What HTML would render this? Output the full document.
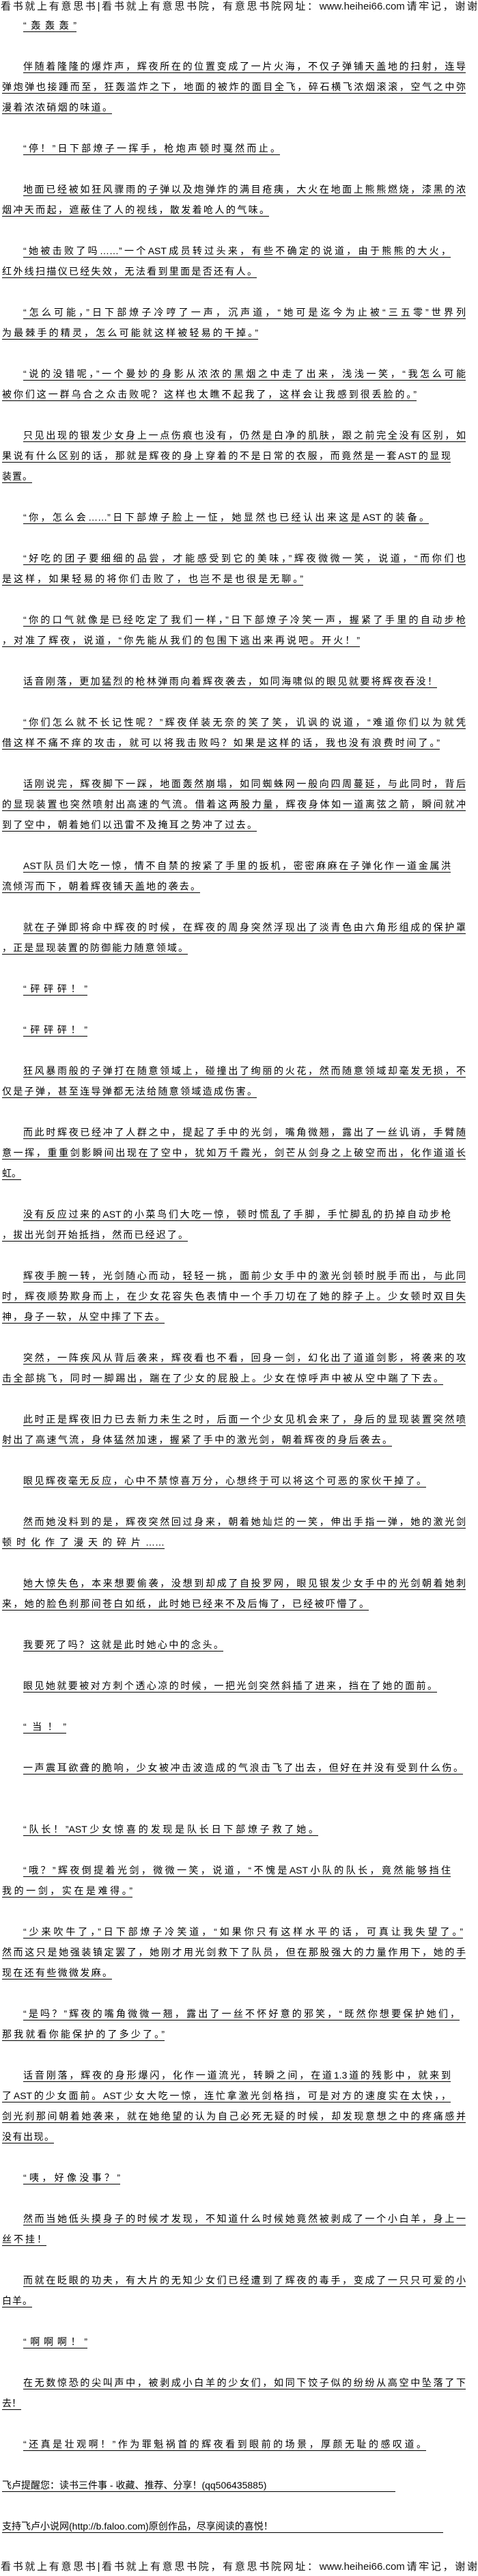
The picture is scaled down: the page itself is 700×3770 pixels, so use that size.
<!DOCTYPE html>
<html><head><meta charset="utf-8">
<style>
html,body{margin:0;padding:0;background:#fff;}
body{width:700px;height:3770px;position:relative;overflow:hidden;font-family:"Liberation Sans","Noto Sans CJK SC",sans-serif;color:#000;}
.l{position:absolute;height:17px;line-height:17px;font-size:14px;border-bottom:1px solid #000;text-align:justify;text-align-last:justify;white-space:nowrap;}
.n{text-align-last:left;}
.h{position:absolute;left:1px;width:698px;font-size:15px;line-height:20px;white-space:nowrap;color:#111;text-align:justify;text-align-last:justify;}
</style></head><body>
<div class="h" style="top:0px">看书就上有意思书|看书就上有意思书院，有意思书院网址：www.heihei66.com请牢记，谢谢</div>

<div class="l" style="top:29px;left:34px;width:78px">“轰轰轰”</div>
<div class="l" style="top:89px;left:34px;width:648px">伴随着隆隆的爆炸声，辉夜所在的位置变成了一片火海，不仅子弹铺天盖地的扫射，连导</div>
<div class="l" style="top:119px;left:3px;width:679px">弹炮弹也接踵而至，狂轰滥炸之下，地面的被炸的面目全飞，碎石横飞浓烟滚滚，空气之中弥</div>
<div class="l" style="top:149px;left:3px;width:161px">漫着浓浓硝烟的味道。</div>
<div class="l" style="top:209px;left:34px;width:376px">“停！”日下部燎子一挥手，枪炮声顿时戛然而止。</div>
<div class="l" style="top:269px;left:34px;width:648px">地面已经被如狂风骤雨的子弹以及炮弹炸的满目疮痍，大火在地面上熊熊燃烧，漆黑的浓</div>
<div class="l" style="top:299px;left:3px;width:391px">烟冲天而起，遮蔽住了人的视线，散发着呛人的气味。</div>
<div class="l" style="top:359px;left:34px;width:626px">“她被击败了吗……”一个AST成员转过头来，有些不确定的说道，由于熊熊的大火，</div>
<div class="l" style="top:389px;left:3px;width:373px">红外线扫描仪已经失效，无法看到里面是否还有人。</div>
<div class="l" style="top:449px;left:34px;width:648px">“怎么可能，”日下部燎子冷哼了一声，沉声道，“她可是迄今为止被“三五零”世界列</div>
<div class="l" style="top:479px;left:3px;width:375px">为最棘手的精灵，怎么可能就这样被轻易的干掉。”</div>
<div class="l" style="top:539px;left:34px;width:648px">“说的没错呢，”一个曼妙的身影从浓浓的黑烟之中走了出来，浅浅一笑，“我怎么可能</div>
<div class="l" style="top:569px;left:3px;width:607px">被你们这一群乌合之众击败呢？这样也太瞧不起我了，这样会让我感到很丢脸的。”</div>
<div class="l" style="top:629px;left:34px;width:648px">只见出现的银发少女身上一点伤痕也没有，仍然是白净的肌肤，跟之前完全没有区别，如</div>
<div class="l" style="top:659px;left:3px;width:657px">果说有什么区别的话，那就是辉夜的身上穿着的不是日常的衣服，而竟然是一套AST的显现</div>
<div class="l" style="top:689px;left:3px;width:44px">装置。</div>
<div class="l" style="top:749px;left:34px;width:594px">“你，怎么会……”日下部燎子脸上一怔，她显然也已经认出来这是AST的装备。</div>
<div class="l" style="top:809px;left:34px;width:648px">“好吃的团子要细细的品尝，才能感受到它的美味，”辉夜微微一笑，说道，“而你们也</div>
<div class="l" style="top:839px;left:3px;width:441px">是这样，如果轻易的将你们击败了，也岂不是也很是无聊。”</div>
<div class="l" style="top:899px;left:34px;width:648px">“你的口气就像是已经吃定了我们一样，”日下部燎子冷笑一声，握紧了手里的自动步枪</div>
<div class="l" style="top:929px;left:3px;width:524px">，对准了辉夜，说道，“你先能从我们的包围下逃出来再说吧。开火！”</div>
<div class="l" style="top:989px;left:34px;width:606px">话音刚落，更加猛烈的枪林弹雨向着辉夜袭去，如同海啸似的眼见就要将辉夜吞没！</div>
<div class="l" style="top:1049px;left:34px;width:648px">“你们怎么就不长记性呢？”辉夜佯装无奈的笑了笑，讥讽的说道，“难道你们以为就凭</div>
<div class="l" style="top:1079px;left:3px;width:641px">借这样不痛不痒的攻击，就可以将我击败吗？如果是这样的话，我也没有浪费时间了。”</div>
<div class="l" style="top:1139px;left:34px;width:648px">话刚说完，辉夜脚下一踩，地面轰然崩塌，如同蜘蛛网一般向四周蔓延，与此同时，背后</div>
<div class="l" style="top:1169px;left:3px;width:679px">的显现装置也突然喷射出高速的气流。借着这两股力量，辉夜身体如一道离弦之箭，瞬间就冲</div>
<div class="l" style="top:1199px;left:3px;width:373px">到了空中，朝着她们以迅雷不及掩耳之势冲了过去。</div>
<div class="l" style="top:1259px;left:34px;width:626px">AST队员们大吃一惊，情不自禁的按紧了手里的扳机，密密麻麻在子弹化作一道金属洪</div>
<div class="l" style="top:1289px;left:3px;width:290px">流倾泻而下，朝着辉夜铺天盖地的袭去。</div>
<div class="l" style="top:1349px;left:34px;width:648px">就在子弹即将命中辉夜的时候，在辉夜的周身突然浮现出了淡青色由六角形组成的保护罩</div>
<div class="l" style="top:1379px;left:3px;width:272px">，正是显现装置的防御能力随意领域。</div>
<div class="l" style="top:1439px;left:34px;width:94px">“砰砰砰！”</div>
<div class="l" style="top:1499px;left:34px;width:94px">“砰砰砰！”</div>
<div class="l" style="top:1559px;left:34px;width:648px">狂风暴雨般的子弹打在随意领域上，碰撞出了绚丽的火花，然而随意领域却毫发无损，不</div>
<div class="l" style="top:1589px;left:3px;width:373px">仅是子弹，甚至连导弹都无法给随意领域造成伤害。</div>
<div class="l" style="top:1649px;left:34px;width:648px">而此时辉夜已经冲了人群之中，提起了手中的光剑，嘴角微翘，露出了一丝讥诮，手臂随</div>
<div class="l" style="top:1679px;left:3px;width:679px">意一挥，重重剑影瞬间出现在了空中，犹如万千霞光，剑芒从剑身之上破空而出，化作道道长</div>
<div class="l" style="top:1709px;left:3px;width:28px">虹。</div>
<div class="l" style="top:1769px;left:34px;width:626px">没有反应过来的AST的小菜鸟们大吃一惊，顿时慌乱了手脚，手忙脚乱的扔掉自动步枪</div>
<div class="l" style="top:1799px;left:3px;width:272px">，拔出光剑开始抵挡，然而已经迟了。</div>
<div class="l" style="top:1859px;left:34px;width:648px">辉夜手腕一转，光剑随心而动，轻轻一挑，面前少女手中的激光剑顿时脱手而出，与此同</div>
<div class="l" style="top:1889px;left:3px;width:679px">时，辉夜顺势欺身而上，在少女花容失色表情中一个手刀切在了她的脖子上。少女顿时双目失</div>
<div class="l" style="top:1919px;left:3px;width:238px">神，身子一软，从空中摔了下去。</div>
<div class="l" style="top:1979px;left:34px;width:648px">突然，一阵疾风从背后袭来，辉夜看也不看，回身一剑，幻化出了道道剑影，将袭来的攻</div>
<div class="l" style="top:2009px;left:3px;width:646px">击全部挑飞，同时一脚踢出，踹在了少女的屁股上。少女在惊呼声中被从空中踹了下去。</div>
<div class="l" style="top:2069px;left:34px;width:648px">此时正是辉夜旧力已去新力未生之时，后面一个少女见机会来了，身后的显现装置突然喷</div>
<div class="l" style="top:2099px;left:3px;width:571px">射出了高速气流，身体猛然加速，握紧了手中的激光剑，朝着辉夜的身后袭去。</div>
<div class="l" style="top:2159px;left:34px;width:590px">眼见辉夜毫无反应，心中不禁惊喜万分，心想终于可以将这个可恶的家伙干掉了。</div>
<div class="l" style="top:2219px;left:34px;width:648px">然而她没料到的是，辉夜突然回过身来，朝着她灿烂的一笑，伸出手指一弹，她的激光剑</div>
<div class="l" style="top:2249px;left:3px;width:238px">顿时化作了漫天的碎片……</div>
<div class="l" style="top:2309px;left:34px;width:648px">她大惊失色，本来想要偷袭，没想到却成了自投罗网，眼见银发少女手中的光剑朝着她刺</div>
<div class="l" style="top:2339px;left:3px;width:537px">来，她的脸色刹那间苍白如纸，此时她已经来不及后悔了，已经被吓懵了。</div>
<div class="l" style="top:2399px;left:34px;width:293px">我要死了吗？这就是此时她心中的念头。</div>
<div class="l" style="top:2459px;left:34px;width:606px">眼见她就要被对方刺个透心凉的时候，一把光剑突然斜插了进来，挡在了她的面前。</div>
<div class="l" style="top:2519px;left:34px;width:63px">“当！”</div>
<div class="l" style="top:2579px;left:34px;width:644px">一声震耳欲聋的脆响，少女被冲击波造成的气浪击飞了出去，但好在并没有受到什么伤。</div>
<div class="l" style="top:2669px;left:34px;width:432px">“队长！”AST少女惊喜的发现是队长日下部燎子救了她。</div>
<div class="l" style="top:2729px;left:34px;width:626px">“哦？”辉夜倒提着光剑，微微一笑，说道，“不愧是AST小队的队长，竟然能够挡住</div>
<div class="l" style="top:2759px;left:3px;width:191px">我的一剑，实在是难得。”</div>
<div class="l" style="top:2819px;left:34px;width:644px">“少来吹牛了，”日下部燎子冷笑道，“如果你只有这样水平的话，可真让我失望了。”</div>
<div class="l" style="top:2849px;left:3px;width:679px">然而这只是她强装镇定罢了，她刚才用光剑救下了队员，但在那股强大的力量作用下，她的手</div>
<div class="l" style="top:2879px;left:3px;width:161px">现在还有些微微发麻。</div>
<div class="l" style="top:2939px;left:34px;width:639px">“是吗？”辉夜的嘴角微微一翘，露出了一丝不怀好意的邪笑，“既然你想要保护她们，</div>
<div class="l" style="top:2969px;left:3px;width:238px">那我就看你能保护的了多少了。”</div>
<div class="l" style="top:3029px;left:34px;width:626px">话音刚落，辉夜的身形爆闪，化作一道流光，转瞬之间，在道1.3道的残影中，就来到</div>
<div class="l" style="top:3059px;left:3px;width:657px">了AST的少女面前。AST少女大吃一惊，连忙拿激光剑格挡，可是对方的速度实在太快，，</div>
<div class="l" style="top:3089px;left:3px;width:679px">剑光刹那间朝着她袭来，就在她绝望的认为自己必死无疑的时候，却发现意想之中的疼痛感并</div>
<div class="l" style="top:3119px;left:3px;width:76px">没有出现。</div>
<div class="l" style="top:3179px;left:34px;width:142px">“咦，好像没事？”</div>
<div class="l" style="top:3239px;left:34px;width:648px">然而当她低头摸身子的时候才发现，不知道什么时候她竟然被剥成了一个小白羊，身上一</div>
<div class="l" style="top:3269px;left:3px;width:65px">丝不挂！</div>
<div class="l" style="top:3329px;left:34px;width:648px">而就在眨眼的功夫，有大片的无知少女们已经遭到了辉夜的毒手，变成了一只只可爱的小</div>
<div class="l" style="top:3359px;left:3px;width:44px">白羊。</div>
<div class="l" style="top:3419px;left:34px;width:94px">“啊啊啊！”</div>
<div class="l" style="top:3479px;left:34px;width:648px">在无数惊恐的尖叫声中，被剥成小白羊的少女们，如同下饺子似的纷纷从高空中坠落了下</div>
<div class="l" style="top:3509px;left:3px;width:28px">去！</div>
<div class="l" style="top:3569px;left:34px;width:590px">“还真是壮观啊！”作为罪魁祸首的辉夜看到眼前的场景，厚颜无耻的感叹道。</div>
<div class="l n" style="top:3629px;left:3px;width:576px">飞卢提醒您：读书三件事 - 收藏、推荐、分享！(qq506435885)</div>
<div class="l n" style="top:3689px;left:3px;width:646px">支持飞卢小说网(http://b.faloo.com)原创作品，尽享阅读的喜悦！</div>

<div class="h" style="top:3747px">看书就上有意思书|看书就上有意思书院，有意思书院网址：www.heihei66.com请牢记，谢谢</div>
</body></html>
